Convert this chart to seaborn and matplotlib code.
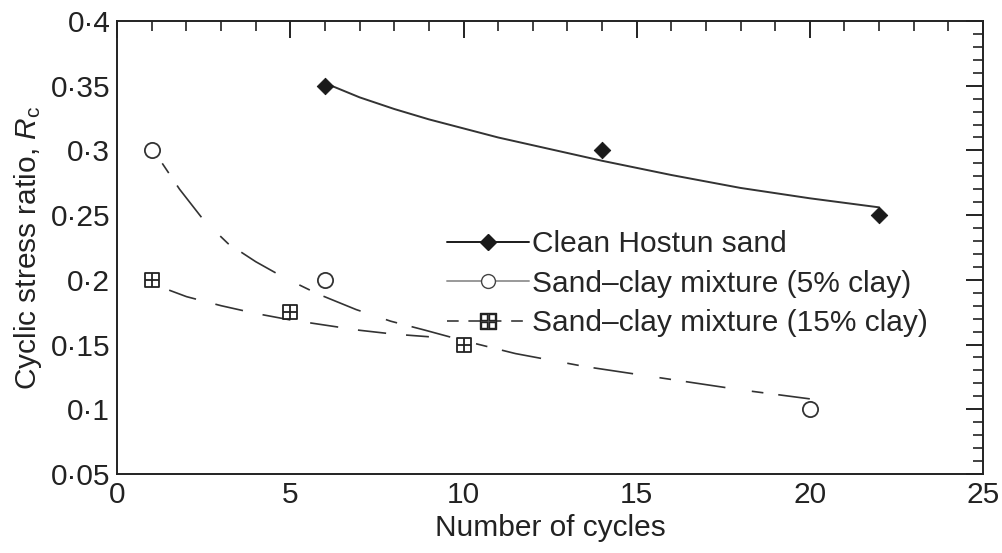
import matplotlib
matplotlib.use("Agg")
import matplotlib.pyplot as plt
import seaborn as sns
from matplotlib.ticker import MultipleLocator, FixedLocator, FixedFormatter

# Datos medidos (puntos)
clean_x = [6, 14, 22]
clean_y = [0.35, 0.30, 0.25]
clay5_x = [1, 6, 20]
clay5_y = [0.30, 0.20, 0.10]
clay15_x = [1, 5, 10]
clay15_y = [0.20, 0.175, 0.15]

# Curvas de ajuste
clean_fit_x = [6, 7, 8, 9, 10, 11, 12, 14, 16, 18, 20, 22]
clean_fit_y = [0.352, 0.341, 0.332, 0.324, 0.317, 0.310, 0.304, 0.292, 0.281, 0.271, 0.263, 0.256]
clay5_fit_x = [1.3, 1.8, 2.5, 3.2, 4.0, 4.8, 5.8, 6.9, 7.9, 8.9, 10.0, 11.5, 13.5, 15.5, 18.0, 20.0]
clay5_fit_y = [0.290, 0.270, 0.246, 0.228, 0.214, 0.202, 0.189, 0.177, 0.168, 0.161, 0.153, 0.143, 0.133, 0.125, 0.115, 0.108]
clay15_fit_x = [1.5, 2.0, 3.0, 4.0, 5.0, 6.0, 7.0, 8.0, 9.0]
clay15_fit_y = [0.192, 0.187, 0.180, 0.174, 0.169, 0.165, 0.161, 0.158, 0.156]

y_ticks = [0.05, 0.1, 0.15, 0.2, 0.25, 0.3, 0.35, 0.4]
y_tick_labels = ['0·05', '0·1', '0·15', '0·2', '0·25', '0·3', '0·35', '0·4']
x_ticks = [0, 5, 10, 15, 20, 25]

sns.set_style("white")
plt.rcParams['font.family'] = ['Liberation Sans', 'DejaVu Sans']
plt.rcParams['mathtext.fontset'] = 'custom'
plt.rcParams['mathtext.rm'] = 'Liberation Sans'
plt.rcParams['mathtext.it'] = 'Liberation Sans:italic'

fig = plt.figure(figsize=(10.02, 5.53), dpi=100)
ax = fig.add_axes([0.117, 0.143, 0.864, 0.819])

negro = '#1a1a1a'
fs = 21.5

# Curvas
sns.lineplot(x=clean_fit_x, y=clean_fit_y, ax=ax, color='#333333', lw=1.4)
l5 = sns.lineplot(x=clay5_fit_x, y=clay5_fit_y, ax=ax, color='#333333', lw=1.2).lines[-1]
l5.set_dashes([7, 9, 24, 16])
l15 = sns.lineplot(x=clay15_fit_x, y=clay15_fit_y, ax=ax, color='#333333', lw=1.2).lines[-1]
l15.set_dashes([17, 12])

# Puntos
sns.scatterplot(x=clean_x, y=clean_y, ax=ax, marker='D', s=70, color=negro,
                edgecolor=negro, zorder=5)
sns.scatterplot(x=clay5_x, y=clay5_y, ax=ax, marker='o', s=120, facecolor='white',
                edgecolor='#333333', linewidth=1.3, zorder=5)
sns.scatterplot(x=clay15_x, y=clay15_y, ax=ax, marker='s', s=100, facecolor='white',
                edgecolor='#222222', linewidth=1.3, zorder=5)
sns.scatterplot(x=clay15_x, y=clay15_y, ax=ax, marker='+', s=100, color='#222222',
                linewidth=1.3, zorder=6)

# Leyenda
h1, = ax.plot([], [], color=negro, lw=1.4, marker='D', ms=8)
h2, = ax.plot([], [], color='#999999', lw=1.4, marker='o', ms=10,
              mfc='white', mec='#444444')
h3, = ax.plot([], [], color='#555555', lw=1.4, marker='$\u229e$', ms=12,
              mec='#222222', dashes=[6, 5])
ax.legend([h1, h2, h3],
          ['Clean Hostun sand', 'Sand–clay mixture (5% clay)', 'Sand–clay mixture (15% clay)'],
          loc='upper left', bbox_to_anchor=(0.381, 0.538), frameon=False,
          fontsize=fs, handlelength=2.75, handletextpad=0.1, labelspacing=0.38,
          borderpad=0.0, borderaxespad=0.0)

ax.set_xlim(0, 25)
ax.set_ylim(0.05, 0.4)
ax.xaxis.set_major_locator(FixedLocator(x_ticks))
ax.xaxis.set_minor_locator(MultipleLocator(1))
ax.yaxis.set_major_locator(FixedLocator(y_ticks))
ax.yaxis.set_major_formatter(FixedFormatter(y_tick_labels))
ax.yaxis.set_minor_locator(MultipleLocator(0.01))

ax.tick_params(which='both', direction='in', top=True, right=True, color='#222222',
               labelsize=fs, labelcolor='#222222')
ax.tick_params(which='major', length=12, width=1.4, pad=5)
ax.tick_params(which='minor', length=7, width=1.2)
for s in ax.spines.values():
    s.set_color('#222222')
    s.set_linewidth(1.4)

ax.set_xlabel('Number of cycles', fontsize=fs, color='#222222', labelpad=4)
ax.set_ylabel(r'Cyclic stress ratio, $R_\mathrm{c}$', fontsize=fs, color='#222222', labelpad=5)

fig.savefig('out.png', dpi=100)
